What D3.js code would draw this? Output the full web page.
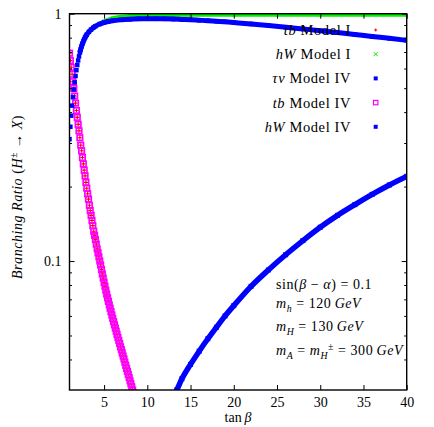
<!DOCTYPE html>
<html><head><meta charset="utf-8">
<script src="https://cdn.jsdelivr.net/npm/d3@7"></script>
<style>
body{margin:0;background:#fff}
svg{display:block}
text{font-family:"Liberation Serif","DejaVu Serif",serif;fill:#000}
</style>
</head><body>
<svg id="c" width="434" height="427"></svg>
<script>
// ---------------- data ----------------
const xTicks = [5, 10, 15, 20, 25, 30, 35, 40];
const yMajorTicks = [0.1, 1];
const yTickLabels = ["0.1", "1"];
const yMinorTicks = [0.04, 0.05, 0.06, 0.07, 0.08, 0.09, 0.2, 0.3, 0.4, 0.5, 0.6, 0.7, 0.8, 0.9];

// tb channel (Model I and Model IV coincide)
const tbTanBeta = [1.0,1.1,1.2,1.3,1.4,1.5,1.6,1.7,1.8,1.9,2.0,2.1,2.2,2.3,2.4,2.5,2.6,2.7,2.8,2.9,
  3.0,3.1,3.2,3.3,3.4,3.5,3.6,3.7,3.8,3.9,4.0,4.1,4.2,4.3,4.4,4.5,4.6,4.7,4.8,4.9,
  5.0,5.1,5.2,5.3,5.4,5.5,5.6,5.7,5.8,5.9,6.0,6.1,6.2,6.3,6.4,6.5,6.6,6.7,6.8,6.9,
  7.0,7.1,7.2,7.3,7.4,7.5,7.6,7.7,7.8,7.9,8.0,8.1,8.2,8.3,8.4,8.5];
const tbModelI = [0.692,0.646,0.607,0.569,0.531,0.499,0.465,0.435,0.406,0.381,0.357,0.336,0.315,0.294,0.279,0.262,0.247,0.233,0.221,0.208,
  0.197,0.187,0.178,0.168,0.160,0.153,0.146,0.139,0.132,0.127,0.122,0.117,0.112,0.108,0.104,0.100,0.0964,0.0924,0.0887,0.0853,
  0.0820,0.0790,0.0762,0.0735,0.0710,0.0687,0.0665,0.0644,0.0624,0.0605,0.0586,0.0569,0.0552,0.0536,0.0520,0.0505,0.0491,0.0477,0.0464,0.0450,
  0.0438,0.0425,0.0413,0.0402,0.0390,0.0379,0.0368,0.0358,0.0348,0.0338,0.0328,0.0319,0.0310,0.0301,0.0293,0.0285];
const tbModelIV = [0.692,0.646,0.607,0.569,0.531,0.499,0.465,0.435,0.406,0.381,0.357,0.336,0.315,0.294,0.279,0.262,0.247,0.233,0.221,0.208,
  0.197,0.187,0.178,0.168,0.160,0.153,0.146,0.139,0.132,0.127,0.122,0.117,0.112,0.108,0.104,0.100,0.0964,0.0924,0.0887,0.0853,
  0.0820,0.0790,0.0762,0.0735,0.0710,0.0687,0.0665,0.0644,0.0624,0.0605,0.0586,0.0569,0.0552,0.0536,0.0520,0.0505,0.0491,0.0477,0.0464,0.0450,
  0.0438,0.0425,0.0413,0.0402,0.0390,0.0379,0.0368,0.0358,0.0348,0.0338,0.0328,0.0319,0.0310,0.0301,0.0293,0.0285];

// hW channel, Model IV
const hwIVTanBeta = [1.0,1.1,1.2,1.3,1.4,1.5,1.6,1.7,1.8,1.9,2.0,2.1,2.2,2.3,2.4,2.5,2.6,2.7,2.8,2.9,3.0,
  3.25,3.5,3.75,4.0,4.5,5.0,5.5,6.0,7.0,8.0,9.0,10,11,12,13,14,15,16,17,18,19,20,22,24,26,28,30,32,34,36,38,40];
const hwModelIV = [0.311,0.349,0.387,0.425,0.460,0.494,0.528,0.560,0.591,0.620,0.647,0.672,0.696,0.718,0.738,0.757,0.773,0.788,0.801,0.813,0.823,
  0.845,0.863,0.878,0.890,0.908,0.921,0.930,0.937,0.945,0.950,0.953,0.954,0.954,0.953,0.951,0.948,0.945,0.941,0.937,0.932,0.927,0.921,
  0.909,0.896,0.882,0.868,0.854,0.839,0.824,0.809,0.795,0.780];

// hW channel, Model I
const hwITanBeta = [1.0,1.2,1.4,1.6,1.8,2.0,2.2,2.4,2.6,2.8,3.0,3.5,4.0,4.5,5.0,5.5,6.0,7.0,8.0,9.0,10,12,15,20,25,30,35,40];
const hwModelI = [0.311,0.387,0.460,0.528,0.591,0.647,0.696,0.738,0.773,0.801,0.823,0.863,0.892,0.914,0.933,0.949,0.961,0.974,0.980,0.983,0.985,0.986,0.987,0.987,0.987,0.987,0.987,0.987];

// tau nu channel, Model IV
const tnIVTanBeta = [13,13.4,14,15,16,17,18,19,20,22,24,26,28,30,32,34,36,38,40];
const tauNuModelIV = [0.0285,0.0301,0.0334,0.0382,0.0432,0.0485,0.054,0.060,0.066,0.079,0.092,0.106,0.121,0.137,0.153,0.169,0.186,0.203,0.220];

// ---------------- chart ----------------
const L = 69.5, R = 406.7, T = 13.7, B = 390;
const svg = d3.select("#c");
const x = d3.scaleLinear().domain([1, 40]).range([L, R]);
const y = d3.scaleLog().domain([0.0301, 1]).range([B, T]);

svg.append("defs").append("clipPath").attr("id", "clip")
  .append("rect").attr("x", L).attr("y", T).attr("width", R - L).attr("height", B - T);

const plot = svg.append("g").attr("clip-path", "url(#clip)");

const zip = (xs, ys) => xs.map((v, i) => [v, ys[i]]);
const line = d3.line().x(d => x(d[0])).y(d => y(d[1])).curve(d3.curveMonotoneX);

const BLUE = "#0000ff", MAG = "#ff00ff", RED = "#ff0000", GREEN = "#00ee00";

function plusMarks(g, pts, arm, color, sw) {
  g.selectAll(null).data(pts).join("path")
    .attr("d", d => { const cx = x(d[0]), cy = y(d[1]);
      return `M${cx - arm},${cy}H${cx + arm}M${cx},${cy - arm}V${cy + arm}`; })
    .attr("stroke", color).attr("stroke-width", sw).attr("fill", "none");
}
function crossMarks(g, pts, arm, color, sw) {
  g.selectAll(null).data(pts).join("path")
    .attr("d", d => { const cx = x(d[0]), cy = y(d[1]);
      return `M${cx - arm},${cy - arm}L${cx + arm},${cy + arm}M${cx - arm},${cy + arm}L${cx + arm},${cy - arm}`; })
    .attr("stroke", color).attr("stroke-width", sw).attr("fill", "none");
}
function squareMarks(g, pts, s, color, filled, sw) {
  g.selectAll(null).data(pts).join("rect")
    .attr("x", d => x(d[0]) - s / 2).attr("y", d => y(d[1]) - s / 2)
    .attr("width", s).attr("height", s)
    .attr("fill", filled ? color : "none")
    .attr("stroke", filled ? "none" : color).attr("stroke-width", sw || 0);
}

// 1. tb Model I (red plus)
const gTbI = plot.append("g");
plusMarks(gTbI, zip(tbTanBeta, tbModelI), 2, RED, 1.1);

// 2. hW Model I (green)
const gHwI = plot.append("g");
const hwIPts = zip(hwITanBeta, hwModelI);
gHwI.append("path").datum(hwIPts.filter(d => d[0] >= 2.2)).attr("d", line)
  .attr("fill", "none").attr("stroke", GREEN).attr("stroke-width", 3.5);
crossMarks(gHwI, hwIPts, 1.5, GREEN, 1);

// 3. tau nu Model IV (blue)
const gTn = plot.append("g");
gTn.append("path").datum(zip(tnIVTanBeta, tauNuModelIV)).attr("d", line)
  .attr("fill", "none").attr("stroke", BLUE).attr("stroke-width", 5.5);
squareMarks(gTn, zip(tnIVTanBeta, tauNuModelIV), 5, BLUE, true);

// 4. tb Model IV (magenta open squares)
const gTbIV = plot.append("g");
squareMarks(gTbIV, zip(tbTanBeta, tbModelIV), 5.5, MAG, false, 1.7);

// 5. hW Model IV (blue)
const gHw = plot.append("g");
const hwPts = zip(hwIVTanBeta, hwModelIV);
gHw.append("path").datum(hwPts.filter(d => d[0] >= 2.2)).attr("d", line)
  .attr("fill", "none").attr("stroke", BLUE).attr("stroke-width", 5);
squareMarks(gHw, hwPts, 4.5, BLUE, true);

// ---------------- axes ----------------
const fs = 14;
const axB = svg.append("g").attr("transform", `translate(0,${B})`)
  .call(d3.axisBottom(x).tickValues(xTicks).tickSize(-5).tickSizeOuter(0).tickPadding(7));
const axT = svg.append("g").attr("transform", `translate(0,${T})`)
  .call(d3.axisTop(x).tickValues(xTicks).tickSize(-5).tickSizeOuter(0).tickFormat(""));
const axL = svg.append("g").attr("transform", `translate(${L},0)`)
  .call(d3.axisLeft(y).tickValues(yMajorTicks).tickSize(-5).tickSizeOuter(0).tickPadding(8)
    .tickFormat((d, i) => yTickLabels[i]));
const axLm = svg.append("g").attr("transform", `translate(${L},0)`)
  .call(d3.axisLeft(y).tickValues(yMinorTicks).tickSize(-2.5).tickSizeOuter(0).tickFormat(""));
const axR = svg.append("g").attr("transform", `translate(${R},0)`)
  .call(d3.axisRight(y).tickValues(yMajorTicks).tickSize(-5).tickSizeOuter(0).tickFormat(""));
const axRm = svg.append("g").attr("transform", `translate(${R},0)`)
  .call(d3.axisRight(y).tickValues(yMinorTicks).tickSize(-2.5).tickSizeOuter(0).tickFormat(""));
[axB, axT, axL, axLm, axR, axRm].forEach(a => {
  a.select(".domain").remove();
  a.selectAll(".tick line").attr("stroke", "#000").attr("stroke-width", 1);
  a.selectAll("text").attr("font-family", "Liberation Serif, DejaVu Serif, serif").attr("font-size", fs).attr("fill", "#000");
});
svg.append("rect").attr("x", L).attr("y", T).attr("width", R - L).attr("height", B - T)
  .attr("fill", "none").attr("stroke", "#000").attr("stroke-width", 1.4);

// ---------------- text helpers ----------------
function rich(t, segs) {
  let off = 0;
  segs.forEach(s => {
    const ts = t.append("tspan").text(s.t);
    if (s.i) ts.attr("font-style", "italic");
    let target = 0;
    if (s.sub) target = 3.5;
    if (s.sup) target = -5;
    if (s.sub || s.sup) ts.attr("font-size", "70%");
    if (target !== off) { ts.attr("dy", target - off); off = target; }
  });
  return t;
}

// axis titles
rich(svg.append("text").attr("x", 238).attr("y", 422).attr("text-anchor", "middle").attr("font-size", fs),
  [{t: "tan\u2009"}, {t: "β", i: true}]);
rich(svg.append("text").attr("transform", "translate(22,197) rotate(-90)").attr("text-anchor", "middle")
  .attr("font-size", fs).attr("letter-spacing", 0.55),
  [{t: "Branching Ratio ", i: true}, {t: "("}, {t: "H", i: true}, {t: "±", sup: true}, {t: " → "}, {t: "X", i: true}, {t: ")"}]);

// legend
const legend = [
  {segs: [{t: "tb", i: true}, {t: " Model I"}], mark: "plus"},
  {segs: [{t: "hW", i: true}, {t: " Model I"}], mark: "cross"},
  {segs: [{t: "τν", i: true}, {t: " Model IV"}], mark: "sq"},
  {segs: [{t: "tb", i: true}, {t: " Model IV"}], mark: "osq"},
  {segs: [{t: "hW", i: true}, {t: " Model IV"}], mark: "sq"}
];
legend.forEach((e, i) => {
  const cy = 30 + i * 24.2;
  rich(svg.append("text").attr("x", 351).attr("y", cy + 5).attr("text-anchor", "end")
    .attr("font-size", 14.5).attr("letter-spacing", 0.6), e.segs);
  const cx = 375.7;
  if (e.mark === "plus") svg.append("path").attr("d", `M${cx-1.5},${cy}H${cx+1.5}M${cx},${cy-1.5}V${cy+1.5}`).attr("stroke", RED).attr("stroke-width", 1);
  if (e.mark === "cross") svg.append("path").attr("d", `M${cx-2},${cy-2}L${cx+2},${cy+2}M${cx-2},${cy+2}L${cx+2},${cy-2}`).attr("stroke", GREEN).attr("stroke-width", 1);
  if (e.mark === "sq") svg.append("rect").attr("x", cx - 2).attr("y", cy - 2).attr("width", 4).attr("height", 4).attr("fill", BLUE);
  if (e.mark === "osq") svg.append("rect").attr("x", cx - 2.2).attr("y", cy - 2.2).attr("width", 4.4).attr("height", 4.4).attr("fill", "none").attr("stroke", MAG).attr("stroke-width", 1.2);
});

// annotations
const ann = [
  {y: 289, segs: [{t: "sin("}, {t: "β", i: true}, {t: " − "}, {t: "α", i: true}, {t: ") = 0.1"}]},
  {y: 308, segs: [{t: "m", i: true}, {t: "h", i: true, sub: true}, {t: " = 120"}, {t: "\u2009GeV", i: true}]},
  {y: 331, segs: [{t: "m", i: true}, {t: "H", i: true, sub: true}, {t: " = 130"}, {t: "\u2009GeV", i: true}]},
  {y: 355, segs: [{t: "m", i: true}, {t: "A", i: true, sub: true}, {t: " = "}, {t: "m", i: true}, {t: "H", i: true, sub: true}, {t: "±", sup: true}, {t: " = 300"}, {t: "\u2009GeV", i: true}]}
];
ann.forEach(a => rich(svg.append("text").attr("x", 276).attr("y", a.y).attr("font-size", 14).attr("letter-spacing", 0.55), a.segs));
</script>
</body></html>
